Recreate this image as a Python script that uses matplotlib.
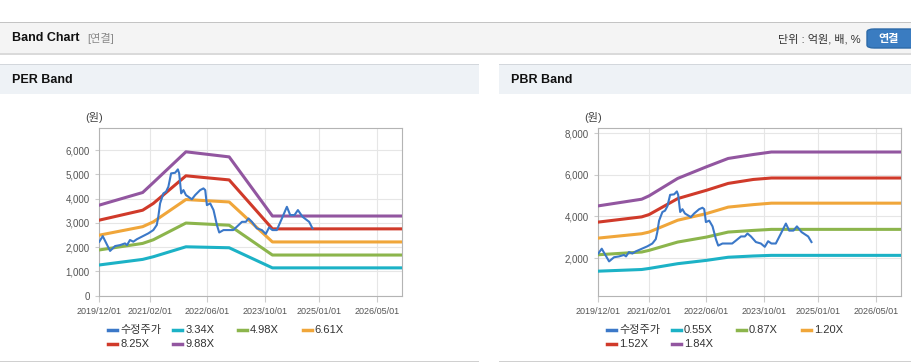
import matplotlib.pyplot as plt
import matplotlib.dates as mdates
from matplotlib.patches import Rectangle, FancyBboxPatch
from matplotlib.lines import Line2D
from matplotlib.ticker import FuncFormatter
import pandas as pd

plt.rcParams['font.family'] = ['Liberation Sans', 'Noto Sans CJK KR', 'DejaVu Sans']

# adjusted share price (same series in both charts)
price_dates = ['2019-12-01', '2019-12-30', '2020-03-01', '2020-04-12', '2020-05-24',
               '2020-07-05', '2020-07-22', '2020-08-16', '2020-09-13', '2020-10-12',
               '2020-11-23', '2021-01-18', '2021-03-01', '2021-03-30', '2021-04-12',
               '2021-04-27', '2021-05-25', '2021-06-16', '2021-07-06', '2021-07-29',
               '2021-09-01', '2021-09-24', '2021-10-05', '2021-10-22', '2021-11-10',
               '2021-12-01', '2022-01-20', '2022-02-17', '2022-03-31', '2022-04-28',
               '2022-05-13', '2022-05-27', '2022-06-24', '2022-07-22', '2022-08-20',
               '2022-09-08', '2022-10-14', '2022-11-26', '2023-01-04', '2023-02-04',
               '2023-03-19', '2023-04-21', '2023-05-13', '2023-06-11', '2023-07-23',
               '2023-09-03', '2023-10-06', '2023-11-03', '2023-12-01', '2024-01-07',
               '2024-02-19', '2024-04-01', '2024-04-29', '2024-06-04', '2024-07-03',
               '2024-08-11', '2024-09-17', '2024-10-06', '2024-11-03']
price_values = [2220, 2450, 1840, 2040, 2080, 2150, 2080, 2290, 2220, 2320,
                2425, 2565, 2700, 2910, 3250, 3800, 4215, 4280, 4490, 5040,
                5065, 5205, 5040, 4215, 4350, 4145, 3970, 4145, 4350, 4420,
                4350, 3730, 3800, 3525, 2900, 2600, 2700, 2700, 2700, 2840,
                3040, 3040, 3180, 3040, 2770, 2700, 2540, 2810, 2700, 2700,
                3180, 3660, 3320, 3320, 3525, 3250, 3110, 3040, 2770]

# PER band
per_dates = ['2019-12-01', '2020-12-01', '2021-03-01', '2021-12-01', '2022-12-01',
             '2023-12-01', '2026-12-01']
per_334 = [1260, 1490, 1600, 2010, 1970, 1140, 1140]
per_498 = [1880, 2150, 2300, 2990, 2900, 1670, 1670]
per_661 = [2490, 2840, 3040, 3960, 3860, 2210, 2210]
per_825 = [3110, 3520, 3800, 4940, 4770, 2750, 2750]
per_988 = [3730, 4250, 4660, 5930, 5720, 3280, 3280]

# PBR band
pbr_dates = ['2019-12-01', '2020-12-01', '2021-02-01', '2021-10-01', '2022-06-01',
             '2022-12-01', '2023-07-01', '2023-12-01', '2026-12-01']
pbr_055 = [1370, 1450, 1500, 1730, 1890, 2040, 2100, 2130, 2130]
pbr_087 = [2160, 2290, 2370, 2770, 3010, 3250, 3330, 3380, 3380]
pbr_120 = [2960, 3170, 3250, 3820, 4140, 4450, 4570, 4640, 4640]
pbr_152 = [3730, 3980, 4090, 4860, 5260, 5590, 5780, 5850, 5850]
pbr_184 = [4510, 4830, 4990, 5830, 6390, 6790, 6980, 7100, 7100]

x_ticks = ['2019/12/01', '2021/02/01', '2022/06/01', '2023/10/01', '2025/01/01', '2026/05/01']
colors = ['#3b78c8', '#1cb2c6', '#8cb54c', '#f0a63a', '#d03a2a', '#9256a0']

W, H = 912, 364
fig = plt.figure(figsize=(W / 100, H / 100), dpi=100)


def box(x0, y0, x1, y1, color):
    fig.add_artist(Rectangle((x0 / W, 1 - y1 / H), (x1 - x0) / W, (y1 - y0) / H,
                             transform=fig.transFigure, facecolor=color, edgecolor='none'))


def text(x, y, s, **kw):
    fig.text(x / W, 1 - y / H, s, va='center', **kw)


# page header
box(0, 22, W, 23, '#c4c4c4')
box(0, 23, W, 53, '#f4f4f4')
box(0, 53, W, 55, '#dadada')
text(12, 38, 'Band Chart', fontsize=9, fontweight='bold', color='#111111')
text(87, 38, '[연결]', fontsize=8, color='#8a8a8a')
text(861, 39, '단위 : 억원, 배, %', fontsize=8, color='#333333', ha='right')
fig.add_artist(FancyBboxPatch((867 / W, 1 - 48 / H), 50 / W, 19 / H,
                              boxstyle='round,pad=0,rounding_size=0.008',
                              transform=fig.transFigure, facecolor='#3a7cc1', edgecolor='#2d6aa8'))
text(889, 39, '연결', fontsize=8, fontweight='bold', color='white', ha='center')

# panels
for x0, x1, title in [(0, 479, 'PER Band'), (499, W, 'PBR Band')]:
    box(x0, 64, x1, 65, '#d3d7dc')
    box(x0, 65, x1, 94, '#eef2f6')
    box(x0, 361, x1, 362, '#d0d0d0')
    text(x0 + 12, 80, title, fontsize=9, fontweight='bold', color='#111111')


def draw_chart(left_px, dates, bands, labels, ylim, yticks):
    ax = fig.add_axes([left_px / W, 1 - 295.5 / H, 303 / W, 167.2 / H])
    ax.plot(pd.to_datetime(price_dates), price_values, color=colors[0], lw=1.5, zorder=5)
    d = pd.to_datetime(dates)
    for vals, c in zip(bands, colors[1:]):
        ax.plot(d, vals, color=c, lw=2.2, zorder=3)
    ax.set_xlim(pd.Timestamp('2019-12-01'), pd.Timestamp('2026-12-01'))
    ax.set_ylim(*ylim)
    ax.set_xticks(pd.to_datetime(x_ticks))
    ax.xaxis.set_major_formatter(mdates.DateFormatter('%Y/%m/%d'))
    ax.set_yticks(yticks)
    ax.yaxis.set_major_formatter(FuncFormatter(lambda v, p: f'{v:,.0f}'))
    ax.grid(True, color='#e6e6e6', lw=0.8)
    ax.set_axisbelow(True)
    for s in ax.spines.values():
        s.set_color('#b4b4b4')
    ax.tick_params(axis='x', labelsize=6.5, colors='#555555', length=4, pad=4)
    ax.tick_params(axis='y', labelsize=7, colors='#555555', length=3, pad=4)
    ax.tick_params(color='#cccccc')
    text(left_px - 5, 118, '(원)', fontsize=8, color='#444444', ha='center')

    # legend, four fixed-width columns
    names = ['수정주가'] + labels
    for i, (name, c) in enumerate(zip(names, colors)):
        row, col = divmod(i, 4)
        lx = left_px + 9 + col * 64.8
        ly = 330 + row * 14
        fig.add_artist(Line2D([lx / W, (lx + 9) / W], [1 - ly / H, 1 - ly / H],
                              transform=fig.transFigure, color=c, lw=2.5))
        text(lx + 12, ly, name, fontsize=8, color='#333333')
    return ax


draw_chart(99.3, per_dates, [per_334, per_498, per_661, per_825, per_988],
           ['3.34X', '4.98X', '6.61X', '8.25X', '9.88X'], (0, 6900),
           [0, 1000, 2000, 3000, 4000, 5000, 6000])
draw_chart(598.3, pbr_dates, [pbr_055, pbr_087, pbr_120, pbr_152, pbr_184],
           ['0.55X', '0.87X', '1.20X', '1.52X', '1.84X'], (200, 8240),
           [2000, 4000, 6000, 8000])

fig.savefig('out.png', dpi=100)
